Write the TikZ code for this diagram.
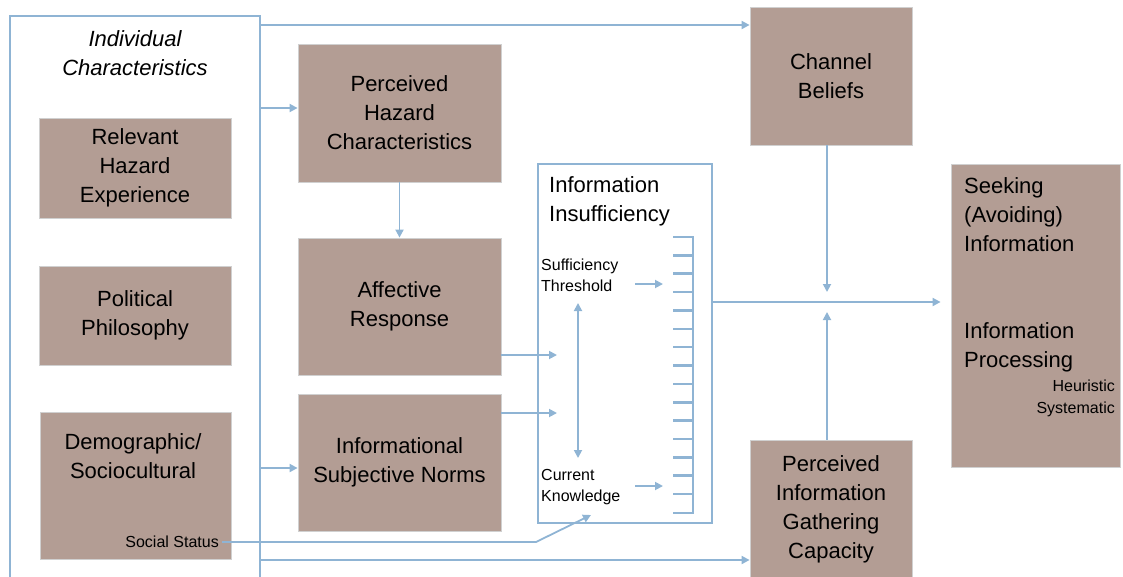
\documentclass[tikz,border=0pt]{standalone}
\usepackage{fontspec}
\setmainfont{Liberation Sans}
\usetikzlibrary{arrows.meta}
\definecolor{boxfill}{RGB}{179,157,148}
\definecolor{boxedge}{RGB}{208,208,208}
\definecolor{linkblue}{RGB}{143,180,212}
\newcommand{\bigtxt}{\fontsize{22}{29}\selectfont}
\newcommand{\smalltxt}{\fontsize{16}{21}\selectfont}

\begin{document}
\begin{tikzpicture}[x=1pt, y=-1pt,
        box/.style={draw=boxedge, line width=0.8pt, fill=boxfill, inner sep=0pt, align=center, font=\bigtxt},
        frame/.style={draw=linkblue, line width=2pt, inner sep=0pt},
        link/.style={draw=linkblue, line width=1.8pt, -{Triangle[length=8pt, width=8pt]}},
        dlink/.style={draw=linkblue, line width=1.8pt, {Triangle[length=8pt, width=8pt]}-{Triangle[length=8pt, width=8pt]}},
        bar/.style={draw=linkblue, line width=2.6pt},
        txt/.style={inner sep=0pt, font=\bigtxt},
        small/.style={inner sep=0pt, font=\smalltxt}]
        \useasboundingbox (0,0) rectangle (1123,576);
        \clip (0,0) rectangle (1123,576);

        % left column
        \node[frame, minimum width=250pt, minimum height=600pt] (indiv) at (135,316) {};
        \node[txt, align=center, font=\bigtxt\itshape] (indivtitle) at (135,53) {Individual\\Characteristics};
        \node[box, minimum width=192pt, minimum height=100pt] (relevant) at (135,168) {Relevant\\Hazard\\Experience};
        \node[box, minimum width=192pt, minimum height=99pt] (political) at (135,315.5) {Political\\Philosophy};
        \node[box, minimum width=191pt, minimum height=147pt] (demo) at (135.5,485.5) {};
        \node[txt, align=center] (demotext) at (133,456) {Demographic/\\Sociocultural};
        \node[small, anchor=east] (status) at (219,542) {Social Status};

        % middle column
        \node[box, minimum width=203pt, minimum height=138pt] (hazard) at (399.5,113) {Perceived\\Hazard\\Characteristics};
        \node[box, minimum width=203pt, minimum height=137pt] (affect) at (399.5,306.5) {Affective\\Response};
        \node[box, minimum width=203pt, minimum height=137pt] (norms) at (399.5,462.5) {Informational\\Subjective Norms};

        % information insufficiency
        \node[frame, minimum width=174pt, minimum height=359pt] (insuff) at (625,343.5) {};
        \node[txt, align=left, anchor=north west] (insufftitle) at (549,176) {Information\\Insufficiency};
        \node[small, align=left, anchor=north west] (thresh) at (541,259) {Sufficiency\\Threshold};
        \node[small, align=left, anchor=north west] (current) at (541,469) {Current\\Knowledge};
        \draw[bar] (673,237) -| (693,513) -- (673,513);
        \foreach \k in {1,...,14}
            \draw[bar] (673,{237+\k*18.36}) -- (693,{237+\k*18.36});

        % right side
        \node[box, minimum width=162pt, minimum height=138pt] (chan) at (831,76) {Channel\\Beliefs};
        \node[box, minimum width=162pt, minimum height=138pt] (gather) at (831,509) {Perceived\\Information\\Gathering\\Capacity};
        \node[box, minimum width=169pt, minimum height=303pt] (seek) at (1035.5,315.5) {};
        \node[txt, align=left, anchor=north west] (seektext) at (964,177) {Seeking\\(Avoiding)\\Information};
        \node[txt, align=left, anchor=north west] (proctext) at (964,322) {Information\\Processing};
        \node[small, align=right, anchor=north east, font=\fontsize{16}{22}\selectfont] (modes) at (1115,380) {Heuristic\\Systematic};

        % connectors
        \coordinate (topout) at ([yshift=-10pt]indiv.north east);
        \draw[link] (topout) -- (topout -| chan.west);
        \draw[link] (indiv.east |- 0,108) -- (hazard.west |- 0,108);
        \draw[link] (indiv.east |- 0,468) -- (norms.west |- 0,468);
        \draw[link] (indiv.east |- 0,560) -- (gather.west |- 0,560);
        \draw[link] (hazard.south) -- (affect.north);

        \coordinate (affin) at (557,355);
        \coordinate (normin) at (557,413);
        \draw[link] (affect.east |- affin) -- (affin);
        \draw[link] (norms.east |- normin) -- (normin);

        \coordinate (threshout) at (635,284);
        \coordinate (currout) at (635,486);
        \draw[link] (threshout) -- ++(28,0);
        \draw[link] (currout) -- ++(28,0);
        \coordinate (ktop) at (578,303);
        \coordinate (kbot) at (578,458);
        \draw[dlink] (ktop) -- (kbot);

        \coordinate (sbend) at (536,542);
        \coordinate (stip) at (591,515);
        \draw[link] ([xshift=3pt]status.east) -- (sbend) -- (stip);

        \coordinate (merge) at (827,302);
        \coordinate (seekin) at ([xshift=-10pt]seek.west);
        \draw[link] (insuff.east |- merge) -- (seekin |- merge);
        \draw[link] (chan.south -| merge) -- ([yshift=10pt]merge);
        \draw[link] (gather.north -| merge) -- ([yshift=-10pt]merge);
\end{tikzpicture}
\end{document}
